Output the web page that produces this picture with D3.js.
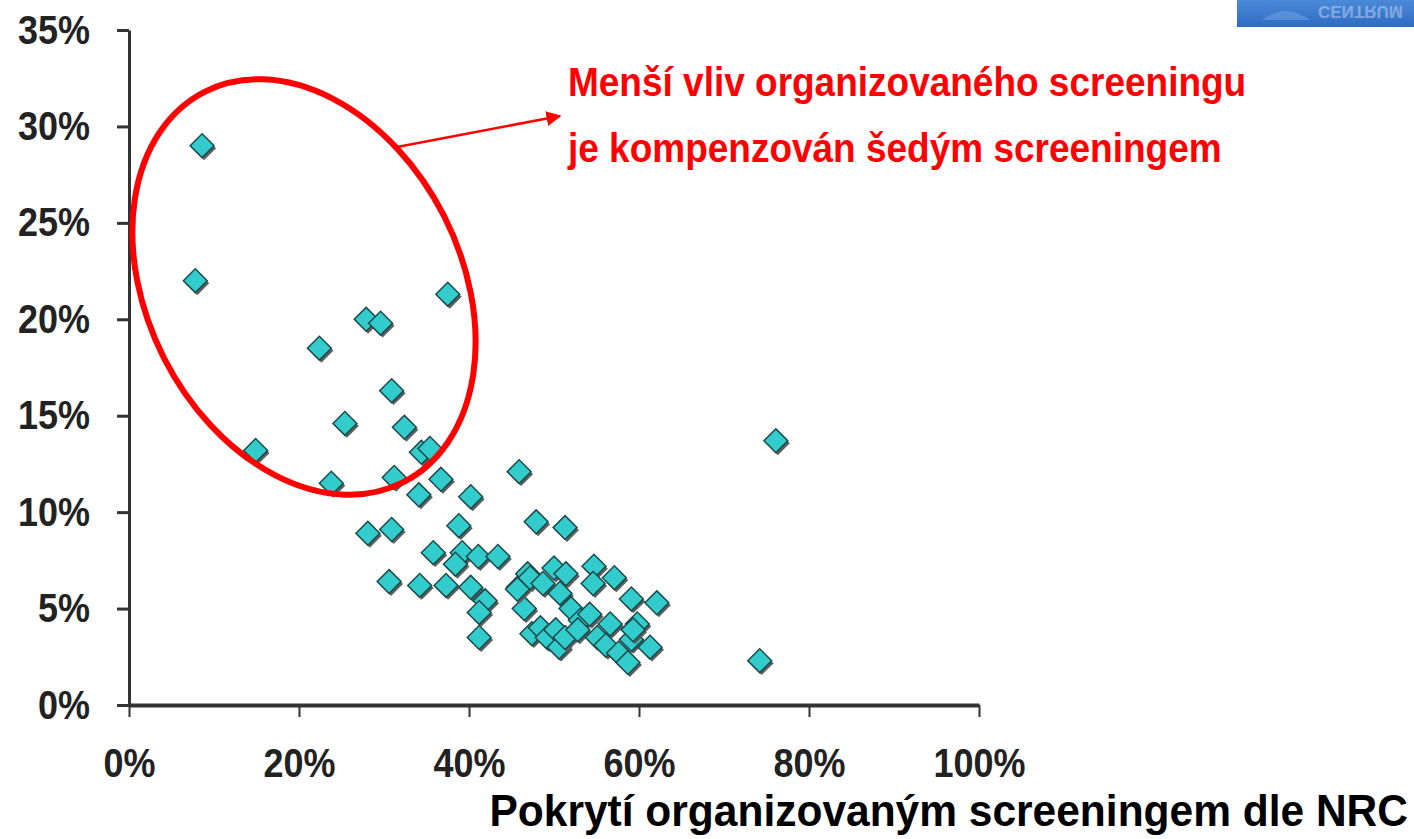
<!DOCTYPE html>
<html lang="cs">
<head>
  <meta charset="UTF-8">
  <title>Pokrytí screeningem</title>
  <script src="https://d3js.org/d3.v7.min.js"></script>
  <style>
    body { margin: 0; background: #fff; }
    svg { font-family: "Liberation Sans", Arial, sans-serif; }
    .tick text {
      font-weight: bold; font-size: 36px; fill: #222;
      transform-box: fill-box; transform-origin: center; transform: scaleY(1.12);
    }
    .domain, .tick line { stroke: #333; }
  </style>
</head>
<body>
  <svg></svg>
  <script>
    // pokrytí organizovaným screeningem (%) a podíl šedého screeningu (%)
    const coverage = [8.6, 7.8, 14.9, 22.4, 27.9, 29.6, 37.5, 30.9, 25.4, 32.4, 23.8, 31.2, 34.4, 35.4, 36.7, 34.1, 40.2, 45.9, 76.1, 74.2,
      28.1, 30.9, 38.8, 47.9, 51.3, 35.8, 39.2, 38.4, 41.1, 43.4, 30.6, 34.2, 37.3, 40.2, 41.9, 41.2, 41.2, 45.8, 46.9, 47.2,
      46.5, 48.7, 50.0, 51.4, 50.7, 52.0, 54.7, 54.6, 57.1, 59.1, 62.1, 53.1, 54.2, 56.6, 59.8, 47.4, 48.4, 49.2, 50.2, 50.6,
      51.3, 52.8, 55.1, 56.1, 57.6, 58.7, 59.1, 61.3, 59.3, 45.7];
    const grey = [29.0, 22.0, 13.2, 18.5, 20.0, 19.8, 21.3, 16.3, 14.6, 14.4, 11.5, 11.8, 13.1, 13.3, 11.7, 10.9, 10.8, 12.1, 13.7, 2.3,
      8.9, 9.1, 9.3, 9.5, 9.2, 7.9, 7.9, 7.3, 7.7, 7.7, 6.4, 6.2, 6.2, 6.1, 5.4, 4.8, 3.5, 6.1, 6.8, 6.6,
      5.0, 6.3, 7.1, 6.8, 5.8, 5.0, 7.2, 6.3, 6.6, 5.5, 5.3, 4.4, 4.7, 4.2, 4.2, 3.7, 4.0, 3.5, 3.9, 3.0,
      3.5, 3.9, 3.5, 3.1, 2.7, 2.2, 3.4, 3.0, 3.9, 6.0];
    const xTicks = [0, 0.2, 0.4, 0.6, 0.8, 1.0];
    const yTicks = [0, 0.05, 0.1, 0.15, 0.2, 0.25, 0.3, 0.35];
    const noteLines = ['Menší vliv organizovaného screeningu', 'je kompenzován šedým screeningem'];
    const xTitle = 'Pokrytí organizovaným screeningem dle NRC';

    const points = coverage.map((c, i) => ({ x: c / 100, y: grey[i] / 100 }));

    const W = 1414, H = 839;
    const svg = d3.select('svg').attr('width', W).attr('height', H);

    const x = d3.scaleLinear().domain([0, 1]).range([129, 979]);
    const y = d3.scaleLinear().domain([0, 0.35]).range([705, 30]);

    // logo corner
    const defs = svg.append('defs');
    const lg = defs.append('linearGradient').attr('id', 'logo').attr('x1', 0).attr('x2', 0).attr('y1', 0).attr('y2', 1);
    lg.append('stop').attr('offset', 0).attr('stop-color', '#4b8ad8');
    lg.append('stop').attr('offset', 1).attr('stop-color', '#2f6bc2');
    svg.append('rect').attr('x', 1237).attr('y', 0).attr('width', 177).attr('height', 27).attr('fill', 'url(#logo)');
    svg.append('path')
      .attr('d', 'M1262,20 Q1285,2 1310,20 Z')
      .attr('fill', '#6a9ee0').attr('opacity', 0.6);
    svg.append('text')
      .attr('transform', 'translate(1318,6) scale(1,-1)')
      .attr('font-size', 17).attr('font-weight', 'bold')
      .attr('fill', '#fff').attr('opacity', 0.35)
      .text('CENTRUM');

    // axes
    svg.append('g')
      .attr('transform', `translate(${x(0)},0)`)
      .call(d3.axisLeft(y).tickValues(yTicks).tickSize(12).tickSizeOuter(0).tickPadding(27).tickFormat(d3.format('.0%')))
      .call(g => g.selectAll('.domain').attr('stroke-width', 3))
      .call(g => g.selectAll('.tick line').attr('stroke-width', 3));

    svg.append('g')
      .attr('transform', `translate(0,${y(0)})`)
      .call(d3.axisBottom(x).tickValues(xTicks).tickSize(12).tickSizeOuter(0).tickPadding(33).tickFormat(d3.format('.0%')))
      .call(g => g.selectAll('.domain').attr('stroke-width', 4))
      .call(g => g.selectAll('.tick line').attr('stroke-width', 2));

    // diamonds
    const diamond = d3.symbol().type(d3.symbolSquare).size(285)();
    const marks = svg.append('g').selectAll('g')
      .data(points)
      .join('g')
      .attr('transform', d => `translate(${x(d.x)},${y(d.y)})`);
    marks.append('path')
      .attr('d', diamond)
      .attr('transform', 'translate(2,2.5) rotate(45)')
      .attr('fill', '#5a5f5f');
    marks.append('path')
      .attr('d', diamond)
      .attr('transform', 'rotate(45)')
      .attr('fill', '#33cccc')
      .attr('stroke', '#1b4a4a')
      .attr('stroke-width', 1.5);

    // annotation
    svg.append('ellipse')
      .attr('cx', 304).attr('cy', 287).attr('rx', 219).attr('ry', 157)
      .attr('transform', 'rotate(63,304,287)')
      .attr('fill', 'none').attr('stroke', '#ff0000').attr('stroke-width', 6);

    defs.append('marker').attr('id', 'arr')
      .attr('viewBox', '0 0 10 10').attr('refX', 9).attr('refY', 5)
      .attr('markerWidth', 6).attr('markerHeight', 6).attr('markerUnits', 'strokeWidth')
      .attr('orient', 'auto')
      .append('path').attr('d', 'M0,0 L10,5 L0,10 Z').attr('fill', '#ff0000');
    svg.append('line')
      .attr('x1', 397).attr('y1', 147).attr('x2', 560).attr('y2', 116)
      .attr('stroke', '#ff0000').attr('stroke-width', 2.5)
      .attr('marker-end', 'url(#arr)');

    svg.append('g').selectAll('text')
      .data(noteLines)
      .join('text')
      .attr('transform', (d, i) => `translate(568,${96 + i * 66}) scale(1,1.1)`)
      .attr('font-size', 37).attr('font-weight', 'bold')
      .attr('fill', '#ff0000')
      .text(d => d);

    svg.append('text')
      .attr('transform', 'translate(1408,826) scale(1,1.06)')
      .attr('text-anchor', 'end')
      .attr('font-size', 42.5).attr('font-weight', 'bold')
      .attr('fill', '#000')
      .text(xTitle);
  </script>
</body>
</html>
